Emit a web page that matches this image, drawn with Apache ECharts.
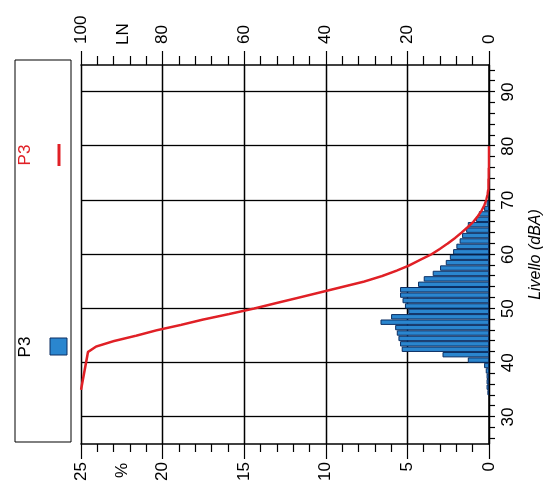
<!DOCTYPE html>
<html>
<head>
<meta charset="utf-8">
<script src="https://cdn.jsdelivr.net/npm/echarts@6/dist/echarts.min.js"></script>
<style>
html, body { margin: 0; padding: 0; background: #fff; width: 549px; height: 495px; overflow: hidden; }
/* il foglio originale e' ruotato di 90 gradi: disegno il grafico dritto e lo giro */
#chart { position: absolute; left: 27px; top: -27px; width: 495px; height: 549px; transform: rotate(-90deg); }
</style>
</head>
<body>
<div id="chart"></div>
<script>
// distribuzione percentuale per classi di 1 dB (limite inferiore della classe)
var binStart = [34, 35, 36, 37, 38, 39, 40, 41, 42, 43, 44, 45, 46, 47, 48, 49, 50, 51,
                52, 53, 54, 55, 56, 57, 58, 59, 60, 61, 62, 63, 64, 65, 66, 67, 68, 69];
var binPct = [0.1, 0.15, 0.15, 0.15, 0.2, 0.3, 1.3, 2.85, 5.35, 5.45, 5.55, 5.65, 5.75, 6.65, 6.0, 4.95, 5.15, 5.3,
              5.45, 5.45, 4.35, 4.0, 3.45, 3.0, 2.65, 2.4, 2.2, 2.0, 1.8, 1.65, 1.4, 1.3, 0.8, 0.62, 0.3, 0.15];

// curva cumulativa LN
var lnLevel = [35, 42, 43, 44, 45, 46, 47, 48, 49, 50, 51, 52, 53, 54, 55, 56, 57, 58,
               59, 60, 61, 62, 63, 64, 65, 66, 67, 68, 69, 70, 71, 72, 74, 76, 80];
var lnValue = [100, 98.3, 96.3, 92, 86.5, 81.5, 75.5, 70, 63.7, 57.7, 52.3, 46.8, 41.4, 36, 30.6, 26.3, 22.7, 19.5,
               16.9, 14.2, 12.1, 10.2, 8.4, 6.8, 5.3, 3.9, 2.8, 1.9, 1.2, 0.7, 0.4, 0.2, 0.1, 0.05, 0];

var levelTicks = [30, 40, 50, 60, 70, 80, 90];
var levelMinorTicks = [26, 28, 32, 34, 36, 38, 42, 44, 46, 48, 52, 54, 56, 58,
                       62, 64, 66, 68, 72, 74, 76, 78, 82, 84, 86, 88, 92, 94];

var FONT = 'Liberation Sans, Arial, sans-serif';
var BLUE = '#2a86cf';
var NAVY = '#0c2f63';
var RED = '#e02026';

var myChart = echarts.init(document.getElementById('chart'));

var option = {
    backgroundColor: '#fff',
    animation: false,
    grid: { left: 51, right: 65, top: 81, bottom: 59 },
    xAxis: [{
        type: 'value',
        min: 25,
        max: 95,
        position: 'bottom',
        axisLine: { lineStyle: { color: '#000', width: 1.5 } },
        axisTick: { customValues: levelTicks, length: 6, lineStyle: { color: '#000', width: 1.2 } },
        axisLabel: { customValues: levelTicks, color: '#000', fontSize: 17, fontFamily: FONT, margin: 11 },
        splitLine: { show: true, lineStyle: { color: '#000', width: 1.3 } },
        name: 'Livello (dBA)',
        nameLocation: 'middle',
        nameGap: 39,
        nameTextStyle: { color: '#000', fontSize: 16, fontStyle: 'italic', fontFamily: FONT }
    }, {
        // solo le tacche secondarie ogni 2 dB
        type: 'value',
        min: 25,
        max: 95,
        position: 'bottom',
        axisLine: { show: false },
        axisTick: { customValues: levelMinorTicks, length: 6, lineStyle: { color: '#000', width: 1.2 } },
        axisLabel: { show: false },
        splitLine: { show: false }
    }],
    yAxis: [{
        type: 'value',
        min: 0,
        max: 25,
        interval: 5,
        position: 'left',
        axisLine: { show: true, lineStyle: { color: '#000', width: 1.5 } },
        axisTick: { show: true, length: 15, lineStyle: { color: '#000', width: 1.2 } },
        minorTick: { show: true, splitNumber: 5, length: 8, lineStyle: { color: '#000', width: 1.2 } },
        axisLabel: { color: '#000', fontSize: 17, fontFamily: FONT, margin: 18 },
        splitLine: { show: true, lineStyle: { color: '#000', width: 1.3 } }
    }, {
        type: 'value',
        min: 0,
        max: 100,
        interval: 20,
        position: 'right',
        axisLine: { show: true, lineStyle: { color: '#000', width: 1.5 } },
        axisTick: { show: true, length: 14, lineStyle: { color: '#000', width: 1.2 } },
        minorTick: { show: true, splitNumber: 5, length: 9, lineStyle: { color: '#000', width: 1.2 } },
        axisLabel: { color: '#000', fontSize: 17, fontFamily: FONT, margin: 21 },
        splitLine: { show: false }
    }],
    series: [{
        name: 'P3',
        type: 'bar',
        xAxisIndex: 0,
        yAxisIndex: 0,
        barWidth: 5.4,
        itemStyle: { color: BLUE, borderColor: NAVY, borderWidth: 1 },
        data: binStart.map(function (l, i) { return [l + 0.5, binPct[i]]; })
    }, {
        name: 'P3 LN',
        type: 'line',
        xAxisIndex: 0,
        yAxisIndex: 1,
        symbol: 'none',
        lineStyle: { color: RED, width: 2.5 },
        data: lnLevel.map(function (l, i) { return [l, lnValue[i]]; }),
        z: 5
    }],
    graphic: [
        { type: 'rect', shape: { x: 53, y: 15, width: 382, height: 56 },
          style: { fill: 'none', stroke: '#000', lineWidth: 1 } },
        { type: 'text', x: 148, y: 17,
          style: { text: 'P3', fill: '#000', fontSize: 17, fontFamily: FONT, align: 'center', verticalAlign: 'top' } },
        { type: 'rect', shape: { x: 140, y: 50, width: 17, height: 17 },
          style: { fill: BLUE, stroke: NAVY, lineWidth: 1 } },
        { type: 'text', x: 340, y: 17,
          style: { text: 'P3', fill: RED, fontSize: 17, fontFamily: FONT, align: 'center', verticalAlign: 'top' } },
        { type: 'line', shape: { x1: 329, y1: 59, x2: 351, y2: 59 },
          style: { stroke: RED, lineWidth: 3 } },
        { type: 'text', x: 32, y: 122,
          style: { text: '%', fill: '#000', fontSize: 17, fontFamily: FONT, align: 'right', verticalAlign: 'middle' } },
        { type: 'text', x: 450, y: 123,
          style: { text: 'LN', fill: '#000', fontSize: 17, fontFamily: FONT, align: 'left', verticalAlign: 'middle' } }
    ]
};

myChart.setOption(option);
</script>
</body>
</html>
